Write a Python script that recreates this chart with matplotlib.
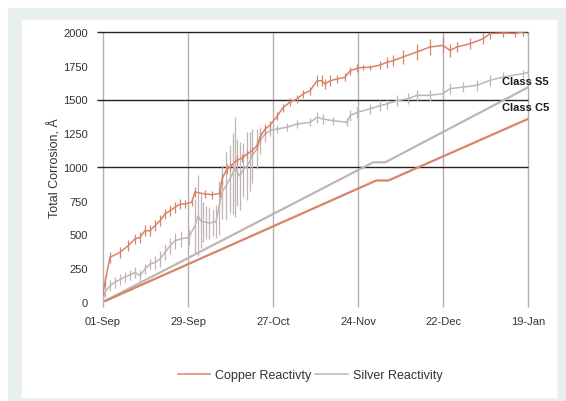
import matplotlib
matplotlib.use("Agg")
import matplotlib.pyplot as plt
import matplotlib.dates as mdates
import pandas as pd

plt.rcParams['font.family'] = ['Liberation Sans', 'DejaVu Sans']

start = pd.Timestamp('2019-09-01')

# copper reactivity (day offset, Å) and the jitter half-height at each sample
copper_day = [0, 0.7, 2.3, 5.6, 8.3, 10.5, 12.2, 13.8, 15.5, 17.1, 18.8, 20.4, 22.1, 23.7, 25.4, 27,
              29.2, 30.3, 33.6, 35.9, 38.5, 39.2, 40.8, 41.8, 44.1, 45.8, 47.4, 49.1, 50.7, 51.7, 53.4,
              55, 57.3, 59.3, 61.6, 63.9, 65.9, 68.2, 70.5, 72.1, 73.1, 74.8, 77.1, 79.7, 81.4, 83.7,
              85.6, 87.9, 91.2, 93.5, 95.5, 98.8, 103.4, 107.7, 112, 114.3, 116.6, 120.9, 125.2, 127.5,
              131.8, 135.7, 138.3, 140]
copper_val = [74, 150, 331, 368, 417, 467, 479, 528, 528, 565, 602, 652, 676, 701, 726, 726,
              738, 815, 800, 795, 805, 911, 985, 1000, 1050, 1065, 1096, 1121, 1158, 1222, 1281,
              1310, 1375, 1440, 1481, 1504, 1541, 1565, 1639, 1639, 1615, 1639, 1652, 1664, 1713, 1731,
              1738, 1738, 1755, 1775, 1787, 1815, 1852, 1889, 1901, 1864, 1889, 1913, 1950, 1988,
              1993, 1990, 2000, 2005]
copper_spread = [30, 40, 40, 40, 40, 40, 40, 40, 40, 40, 40, 40, 40, 40, 40, 30,
                 30, 40, 30, 30, 30, 40, 40, 30, 40, 30, 30, 30, 30, 40, 40,
                 30, 30, 30, 30, 30, 30, 30, 40, 40, 40, 40, 30, 30, 30, 30,
                 20, 20, 30, 40, 40, 50, 60, 60, 60, 50, 40, 40, 40, 40,
                 30, 30, 30, 20]

# silver reactivity
silver_day = [0, 0.7, 2.3, 3.9, 5.5, 7.2, 8.8, 10.5, 12.2, 13.8, 15.5, 17.1, 18.8, 20.4, 22.1, 23.7,
              25.7, 28.3, 30.3, 31.3, 32.2, 33, 34, 35, 36.1, 37.2, 38.2, 39.2, 40.5, 41.8, 42.7, 43.5,
              44.3, 45.1, 46.2, 47.4, 48.3, 49.1, 50.7, 51.7, 53.4,
              55, 57.3, 60.5, 63.9, 68.2, 70.5, 72.5, 75.8, 80.3, 81.4, 83.7, 87.9, 91.2, 93.5, 96.8,
              100.5, 103.4, 107.7, 112, 114.3, 118.6, 123.1, 127.5, 131.8, 138.3, 140]
silver_val = [30, 74, 121, 146, 165, 185, 200, 220, 195, 244, 281, 294, 318, 368, 417, 454,
              467, 479, 565, 640, 600, 592, 590, 585, 590, 595, 700, 815, 860, 911, 950, 1000,
              960, 933, 980, 1007, 1040, 1084, 1133, 1195, 1244,
              1269, 1281, 1294, 1318, 1331, 1368, 1355, 1343, 1331, 1380, 1405, 1430, 1454, 1467, 1491,
              1506, 1531, 1531, 1543, 1580, 1592, 1605, 1642, 1667, 1691, 1700]
silver_spread = [30, 40, 40, 40, 40, 40, 40, 40, 40, 40, 40, 50, 60, 60, 60, 60,
                 60, 60, 200, 300, 200, 150, 120, 120, 100, 120, 200, 200, 250, 250, 300, 370,
                 250, 250, 200, 250, 220, 200, 150, 100, 60,
                 40, 30, 30, 30, 30, 40, 40, 30, 30, 40, 40, 40, 40, 40, 40,
                 40, 40, 40, 40, 40, 40, 40, 40, 40, 30, 20]

# class limit lines (day offset, Å)
class_s5_day = [0, 89, 93, 140]
class_s5_val = [0, 1035, 1035, 1590]
class_c5_day = [0, 90, 94, 140]
class_c5_val = [0, 900, 900, 1356]

tick_days = [0, 28, 56, 84, 112, 140]
threshold_lines = [1000, 1500, 2000]

copper_color = '#d8836a'
silver_color = '#c0b5b5'
grid_color = '#b8aeae'


def to_dates(days):
    return start + pd.to_timedelta(days, unit='D')


fig = plt.figure(figsize=(5.66, 4.02), dpi=100)
fig.patches.append(plt.Rectangle((8 / 566, 0), 1, 1 - 9 / 402, transform=fig.transFigure,
                                 color='#e9efef', zorder=-10))
fig.patches.append(plt.Rectangle((22 / 566, 4 / 402), (556 - 22) / 566, (398 - 21) / 402,
                                 transform=fig.transFigure, color='white', zorder=-9))

ax = fig.add_axes([103 / 566, 1 - 303 / 402, 425 / 566, 270 / 402])
ax.set_facecolor('none')

xt = to_dates(tick_days)
ax.vlines(xt, -0.02, 1, transform=ax.get_xaxis_transform(), color=grid_color, lw=1,
          clip_on=False, zorder=1)
ax.hlines(threshold_lines, -0.014, 1, transform=ax.get_yaxis_transform(), color='#222222',
          lw=1, clip_on=False, zorder=1)

# class lines
ax.plot(to_dates(class_s5_day), class_s5_val, color=silver_color, lw=1.6, zorder=2)
ax.plot(to_dates(class_c5_day), class_c5_val, color=copper_color, lw=1.6, zorder=2)

# measured curves: line plus jitter ticks
for d, v, s, c, lab in [(silver_day, silver_val, silver_spread, silver_color, 'Silver Reactivity'),
                        (copper_day, copper_val, copper_spread, copper_color, 'Copper Reactivty')]:
    xd = to_dates(d)
    ax.plot(xd, v, color=c, lw=1.1, zorder=3, label=lab)
    lo = [a - b for a, b in zip(v, s)]
    hi = [min(a + b, 2000) for a, b in zip(v, s)]
    ax.vlines(xd, lo, hi, color=c, lw=0.9, zorder=3)

ax.text(to_dates([131.5])[0], 1600, 'Class S5', fontsize=8, fontweight='bold', ha='left',
        va='bottom', clip_on=False, color='#1a1a1a')
ax.text(to_dates([131.5])[0], 1405, 'Class C5', fontsize=8, fontweight='bold', ha='left',
        va='bottom', clip_on=False, color='#1a1a1a')

ax.set_xlim(to_dates([0])[0], to_dates([140])[0])
ax.set_ylim(0, 2000)
ax.set_xticks(xt)
ax.xaxis.set_major_formatter(mdates.DateFormatter('%d-%b'))
ax.set_yticks(range(0, 2001, 250))
ax.tick_params(length=0, labelsize=8, colors='#333333')
ax.tick_params(axis='x', pad=10)
ax.tick_params(axis='y', pad=11)
for sp in ax.spines.values():
    sp.set_visible(False)
ax.set_ylabel('Total Corrosion, Å', fontsize=9, labelpad=1, color='#333333')

h, l = ax.get_legend_handles_labels()
fig.legend(h[::-1], l[::-1], loc='center', bbox_to_anchor=(310 / 566, 1 - 376 / 402), ncol=2,
           frameon=False, fontsize=9, handlelength=2.6, columnspacing=0.3, handletextpad=0.4,
           labelcolor='#333333')

fig.savefig('out.png', dpi=100)
